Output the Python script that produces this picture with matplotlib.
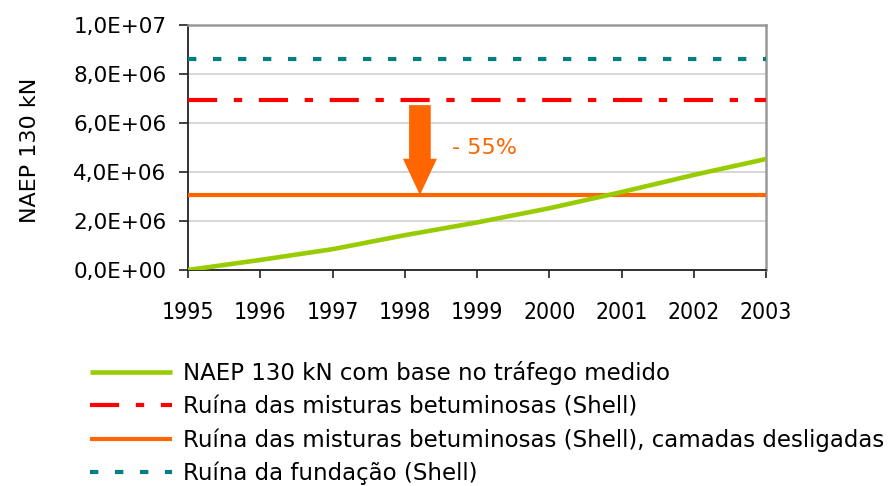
import matplotlib
matplotlib.use("Agg")
import matplotlib.pyplot as plt
from matplotlib.patches import FancyArrow
from matplotlib.ticker import FuncFormatter, MultipleLocator

years = [1995, 1996, 1997, 1998, 1999, 2000, 2001, 2002, 2003]
naep_measured = [0.0, 0.41e6, 0.85e6, 1.42e6, 1.94e6, 2.52e6, 3.18e6, 3.88e6, 4.53e6]
ruina_misturas = 6.93e6
ruina_misturas_desligadas = 3.06e6
ruina_fundacao = 8.62e6
reduction_label = "- 55%"
arrow_year = 1998.21

labels = [
    "NAEP 130 kN com base no tráfego medido",
    "Ruína das misturas betuminosas (Shell)",
    "Ruína das misturas betuminosas (Shell), camadas desligadas",
    "Ruína da fundação (Shell)",
]

plt.rcParams["font.family"] = ["DejaVu Sans"]
FS = 16
LFS = 16.5

W, H = 894, 486
fig = plt.figure(figsize=(W / 100, H / 100), dpi=100)
ax = fig.add_axes([188 / W, 1 - 270 / H, (766 - 188) / W, (270 - 25) / H])

green = "#99cc00"
red = "#ff0000"
orange = "#ff6600"
teal = "#008080"
lw = 3.0

x0, x1 = years[0], years[-1]
l_green, = ax.plot(years, naep_measured, color=green, lw=lw + 0.3, solid_capstyle="butt", zorder=4)
l_red, = ax.plot([x0, x1], [ruina_misturas] * 2, color=red, lw=lw,
                 linestyle=(0, (7, 4, 2, 4)), zorder=3)
l_orange, = ax.plot([x0, x1], [ruina_misturas_desligadas] * 2, color=orange, lw=lw,
                    solid_capstyle="butt", zorder=3)
l_teal, = ax.plot([x0, x1], [ruina_fundacao] * 2, color=teal, lw=lw,
                  linestyle=(0, (2, 4)), zorder=3)

# arrow
top = ruina_misturas - 0.2e6
ax.add_patch(FancyArrow(arrow_year, top, 0, ruina_misturas_desligadas - top,
                        width=0.30, head_width=0.47, head_length=1.48e6,
                        length_includes_head=True, color=orange, lw=0, zorder=5))
ax.text(1998.65, 4.98e6, reduction_label, color=orange, fontsize=FS,
        ha="left", va="center")

ax.set_xlim(x0, x1)
ax.set_ylim(0, 1e7)
ax.yaxis.set_major_locator(MultipleLocator(2e6))
ax.set_xticks(years)
ax.set_xticklabels([str(y) for y in years], fontstretch="condensed")
ax.yaxis.set_major_formatter(FuncFormatter(lambda v, p: f"{v:.1E}".replace(".", ",")))
ax.grid(axis="y", color="#d0d0d0", lw=1.2, zorder=0)
ax.set_axisbelow(True)
for s in ["left", "bottom"]:
    ax.spines[s].set_color("#222222")
    ax.spines[s].set_linewidth(1.3)
for s in ["top", "right"]:
    ax.spines[s].set_color("#999999")
    ax.spines[s].set_linewidth(1.8)
ax.tick_params(axis="y", length=6.5, width=1.2, color="#222222", labelsize=15.5, pad=9)
ax.tick_params(axis="x", length=6, width=1.2, color="#222222", labelsize=16.5, pad=16)
ax.set_ylabel("NAEP 130 kN", fontsize=FS)
ax.yaxis.set_label_coords(-0.256, 0.49)

handles = [l_green, l_red, l_orange, l_teal]
fig.legend(handles, labels, loc="upper left", bbox_to_anchor=(90 / W, 1 - 361 / H),
           frameon=False, fontsize=LFS, handlelength=3.58, handletextpad=0.48,
           labelspacing=0.44, borderpad=0, borderaxespad=0)

fig.savefig("out.png", dpi=100)
